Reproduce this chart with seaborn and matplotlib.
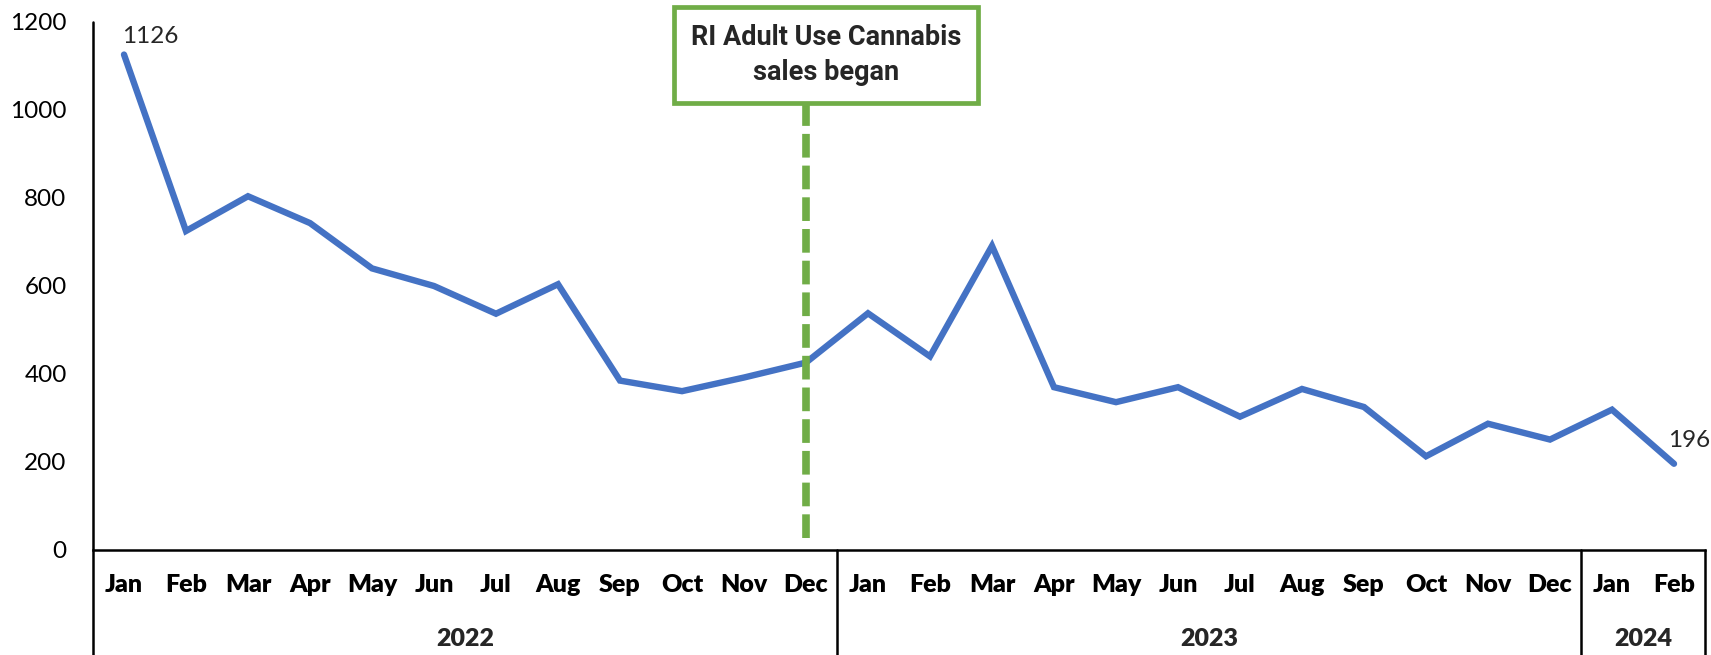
import matplotlib
matplotlib.use("Agg")
import matplotlib.pyplot as plt
import matplotlib.transforms as mtransforms
import seaborn as sns
import numpy as np
import pandas as pd

months = ["Jan", "Feb", "Mar", "Apr", "May", "Jun", "Jul", "Aug", "Sep", "Oct", "Nov", "Dec",
          "Jan", "Feb", "Mar", "Apr", "May", "Jun", "Jul", "Aug", "Sep", "Oct", "Nov", "Dec",
          "Jan", "Feb"]
years = ["2022", "2023", "2024"]
year_counts = [12, 12, 2]
values = [1126, 725, 804, 743, 640, 600, 537, 604, 385, 361, 392, 426,
          538, 440, 691, 370, 336, 370, 303, 366, 325, 213, 287, 251,
          319, 196]
event_index = 11  # Dec 2022
event_text = "RI Adult Use Cannabis\nsales began"

sns.set_theme(style="white")
plt.rcParams["font.family"] = ["Lato", "DejaVu Sans"]

df = pd.DataFrame({"idx": np.arange(len(values)), "value": values})

fig = plt.figure(figsize=(17.11, 6.55), dpi=100)
ax = fig.add_axes([93 / 1711, 105 / 655, 1612 / 1711, 528 / 655])

sns.lineplot(data=df, x="idx", y="value", ax=ax, color="#4472C4", linewidth=4.6,
             solid_joinstyle="miter")

FS = 17.5
ax.set_xlim(-0.5, len(values) - 0.5)
ax.set_ylim(0, 1200)
ax.set_yticks(np.arange(0, 1201, 200))
ax.set_xticks(np.arange(len(values)))
ax.set_xticklabels(months, fontweight="heavy", fontsize=18)
ax.tick_params(axis="y", length=0, pad=19, labelsize=FS, colors="black")
ax.tick_params(axis="x", length=0, pad=17, colors="black")
ax.set_xlabel("")
ax.set_ylabel("")

for s in ["top", "right", "left"]:
    ax.spines[s].set_visible(False)
ax.spines["bottom"].set_color("black")
ax.spines["bottom"].set_linewidth(1.8)

# group separators and left axis line
bounds = [-0.5]
acc = -0.5
for c in year_counts:
    acc += c
    bounds.append(acc)
ax.axvline(bounds[0], ymin=-0.2, ymax=1.0, color="black", lw=1.8, clip_on=False)
for b in bounds[1:]:
    ax.axvline(b, ymin=-0.2, ymax=0.0, color="black", lw=1.8, clip_on=False)

trans = mtransforms.blended_transform_factory(ax.transData, ax.transAxes)
start = 0
for y, c in zip(years, year_counts):
    ax.text(start + (c - 1) / 2, -0.169, y, transform=trans, ha="center", va="center",
            fontsize=18, fontweight="heavy")
    start += c

# data labels
ax.annotate(str(values[0]), (0, values[0]), xytext=(-2, 8), textcoords="offset pixels",
            ha="left", va="bottom", fontsize=FS)
ax.annotate(str(values[-1]), (len(values) - 1, values[-1]), xytext=(-6, 13),
            textcoords="offset pixels", ha="left", va="bottom", fontsize=FS)

# event marker
ax.axvline(event_index, ymin=12 / 528, ymax=(550 - 100) / 528, color="#70AD47", lw=5.5,
           linestyle=(0, (3.1, 1.05)), clip_on=False)
ax.text(event_index + 0.33, 1.0 - (55 - 22) / 528, event_text, transform=trans,
        ha="center", va="center", fontsize=19.5, fontweight="bold",
        family=["Roboto", "DejaVu Sans"], linespacing=1.4,
        bbox=dict(boxstyle="square,pad=0.62", facecolor="white", edgecolor="#70AD47",
                  linewidth=3.4))

fig.savefig("out.png", dpi=100)
